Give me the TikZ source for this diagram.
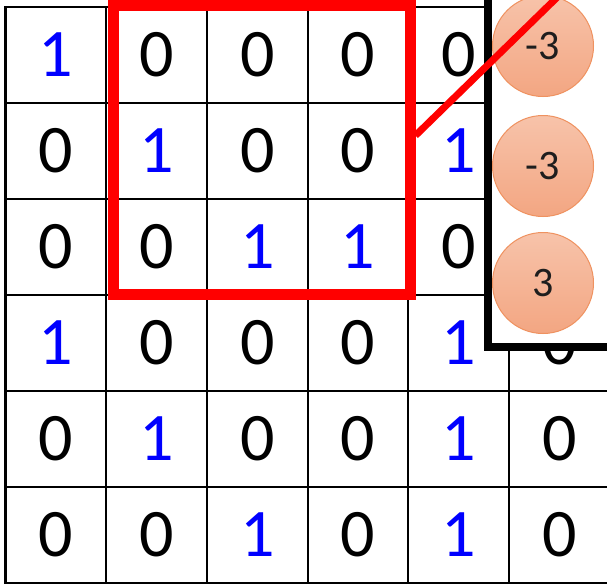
\documentclass[tikz,border=0pt]{standalone}
\usepackage{fontspec}
\setmainfont{Carlito}
\usetikzlibrary{shadows}
\definecolor{digitblue}{RGB}{0,0,255}
\definecolor{winred}{RGB}{255,0,0}
\definecolor{neurontop}{RGB}{247,195,170}
\definecolor{neuronbot}{RGB}{243,166,130}
\definecolor{neuronedge}{RGB}{239,146,96}
\definecolor{neurontext}{RGB}{30,30,30}

\begin{document}
\begin{tikzpicture}[x=1pt, y=-1pt, node distance=117pt]
        % Define styles
        \tikzstyle{cell} = [rectangle, minimum width=100.7pt, minimum height=96pt, inner sep=0pt, draw=black, line width=2.2pt, font=\fontsize{68}{70}\selectfont, text=black]
        \tikzstyle{cellone} = [cell, text=digitblue]
        \tikzstyle{window} = [rectangle, minimum width=297pt, minimum height=289pt, inner sep=0pt, draw=winred, line width=11pt]
        \tikzstyle{panel} = [rectangle, minimum width=172pt, minimum height=377pt, draw=black, line width=8pt, fill=white, drop shadow={shadow xshift=1pt, shadow yshift=-4pt, opacity=0.3}]
        \tikzstyle{neuron} = [circle, minimum size=101pt, inner sep=0pt, draw=neuronedge, line width=1pt, top color=neurontop, bottom color=neuronbot, text=neurontext, font=\fontsize{42}{44}\selectfont]
        \tikzstyle{link} = [draw=winred, line width=7pt]

        \useasboundingbox (0,0) rectangle (607,584);
        \clip (0,0) rectangle (607,584);

        % Cells
        \node (c11) [cellone] at (55.85,55) {1};
        \node (c12) [cell] at (156.55,55) {0};
        \node (c13) [cell] at (257.25,55) {0};
        \node (c14) [cell] at (357.95,55) {0};
        \node (c15) [cell] at (458.65,55) {0};

        \node (c21) [cell] at (55.85,151) {0};
        \node (c22) [cellone] at (156.55,151) {1};
        \node (c23) [cell] at (257.25,151) {0};
        \node (c24) [cell] at (357.95,151) {0};
        \node (c25) [cellone] at (458.65,151) {1};

        \node (c31) [cell] at (55.85,247) {0};
        \node (c32) [cell] at (156.55,247) {0};
        \node (c33) [cellone] at (257.25,247) {1};
        \node (c34) [cellone] at (357.95,247) {1};
        \node (c35) [cell] at (458.65,247) {0};

        \node (c41) [cellone] at (55.85,343) {1};
        \node (c42) [cell] at (156.55,343) {0};
        \node (c43) [cell] at (257.25,343) {0};
        \node (c44) [cell] at (357.95,343) {0};
        \node (c45) [cellone] at (458.65,343) {1};
        \node (c46) [cell] at (559.35,343) {0};

        \node (c51) [cell] at (55.85,439) {0};
        \node (c52) [cellone] at (156.55,439) {1};
        \node (c53) [cell] at (257.25,439) {0};
        \node (c54) [cell] at (357.95,439) {0};
        \node (c55) [cellone] at (458.65,439) {1};
        \node (c56) [cell] at (559.35,439) {0};

        \node (c61) [cell] at (55.85,535) {0};
        \node (c62) [cell] at (156.55,535) {0};
        \node (c63) [cellone] at (257.25,535) {1};
        \node (c64) [cell] at (357.95,535) {0};
        \node (c65) [cellone] at (458.65,535) {1};
        \node (c66) [cell] at (559.35,535) {0};

        % Window and panel
        \node (win) [window] at (261.5,149.5) {};
        \node (panel) [panel] at (574,158.5) {};

        % Neurons
        \node (n1) [neuron] at (543,46) {-3};
        \node (n2) [neuron, below of=n1, node distance=120pt] {-3};
        \node (n3) [neuron, below of=n2] {3};

        % Link
        \coordinate (far) at (580,-25);
        \draw [link] ([yshift=14pt]win.east) -- (far);
    \end{tikzpicture}
\end{document}
